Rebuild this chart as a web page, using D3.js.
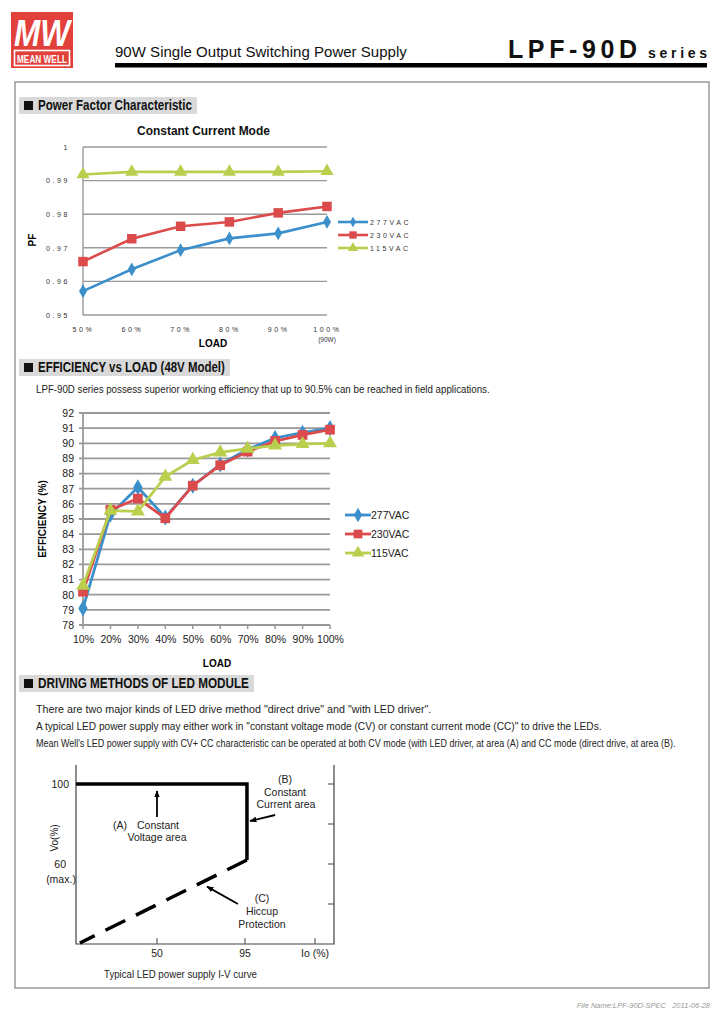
<!DOCTYPE html>
<html><head><meta charset="utf-8">
<script src="https://cdn.jsdelivr.net/npm/d3@7"></script>
<style>
html,body{margin:0;padding:0;background:#fff;}
svg{display:block;}
text{font-family:"Liberation Sans",Arial,sans-serif;}
</style></head>
<body>
<svg id="page" width="723" height="1024"></svg>
<script>
// ---------- DATA ----------
const pfLoads = ["50%","60%","70%","80%","90%","100%"];
const pfTicks = [0.95,0.96,0.97,0.98,0.99,1];
const pf277 = [0.9571,0.9636,0.9693,0.9728,0.9743,0.9777];
const pf230 = [0.9659,0.9727,0.9764,0.9777,0.9804,0.9823];
const pf115 = [0.9918,0.9926,0.9926,0.9926,0.9926,0.9928];

const effLoads = ["10%","20%","30%","40%","50%","60%","70%","80%","90%","100%"];
const effTicks = [78,79,80,81,82,83,84,85,86,87,88,89,90,91,92];
const eff277 = [79.1,85.3,87.1,85.1,87.2,88.6,89.6,90.35,90.7,91.0];
const eff230 = [80.2,85.6,86.35,85.05,87.2,88.55,89.45,90.15,90.55,90.9];
const eff115 = [80.6,85.55,85.5,87.8,88.9,89.4,89.65,89.85,89.95,90.0];

const seriesNames = ["277VAC","230VAC","115VAC"];
const seriesColors = ["#3b8fcb","#dc4b4b","#b9cf4e"];

// I-V curve (schematic)
const ivXTicks = [50,95,130.8];
const ivXLabels = ["50","95","Io (%)"];
const ivYRightTicks = [100,80,60,40];
const ivSolid = [[8.6,100],[96,100],[96,62]];
const ivDashed = [[96,62],[10.6,20.5]];
const ivArrows = [
  {from:[50,83.5], to:[50,96.5]},
  {from:[110.4,84.5], to:[97.6,81.5]},
  {from:[91.4,40], to:[75.6,48.7]}
];

const svg = d3.select("#page");

// condensed text: scale horizontally to the target width
function narrowText(parent, x, y, size, width, txt, opts){
  opts = opts || {};
  const g = parent.append("g").attr("transform",`translate(${x},${y})`);
  const t = g.append("text").attr("x",0).attr("y",0).attr("font-size",size)
    .attr("fill",opts.fill||"#222").attr("font-weight",opts.weight||"normal").text(txt);
  const w = t.node().getComputedTextLength();
  const sx = width / w;
  g.attr("transform",`translate(${x},${y}) scale(${sx},1)`);
  return t;
}

// ---------- HEADER ----------
svg.append("rect").attr("x",11).attr("y",12).attr("width",62).attr("height",56).attr("fill","#e2403a");
svg.append("text").attr("x",42).attr("y",46).attr("text-anchor","middle")
  .attr("font-size",36).attr("font-weight","bold").attr("font-style","italic").attr("fill","#fff")
  .attr("textLength",56).attr("lengthAdjust","spacingAndGlyphs").text("MW");
svg.append("rect").attr("x",14.5).attr("y",50.5).attr("width",55).attr("height",15)
  .attr("fill","none").attr("stroke","#fff").attr("stroke-width",1.6);
narrowText(svg,17,62.5,11,50,"MEAN WELL",{fill:"#fff",weight:"bold"});

narrowText(svg,115,57,15,292,"90W Single Output Switching Power Supply",{fill:"#111"});
svg.append("text").attr("x",508).attr("y",58).attr("font-size",25).attr("font-weight","bold").attr("fill","#111")
  .attr("textLength",129).attr("lengthAdjust","spacing").text("LPF-90D");
svg.append("text").attr("x",648).attr("y",58).attr("font-size",14).attr("font-weight","bold").attr("fill","#111")
  .attr("textLength",59).attr("lengthAdjust","spacing").text("series");
svg.append("rect").attr("x",115).attr("y",63).attr("width",592).attr("height",4.5).attr("fill","#000");

// frame
svg.append("rect").attr("x",15).attr("y",82).attr("width",694).attr("height",906)
  .attr("fill","none").attr("stroke","#8a8a8a").attr("stroke-width",1.3);

// section header helper
function sectionHeader(y, label, w){
  svg.append("rect").attr("x",19).attr("y",y).attr("width",w+24).attr("height",17).attr("fill","#d9d9d9");
  svg.append("rect").attr("x",24).attr("y",y+4).attr("width",9).attr("height",9).attr("fill","#111");
  narrowText(svg,38,y+13,14,w,label,{fill:"#111",weight:"bold"});
}
sectionHeader(97,"Power Factor Characteristic",154);
sectionHeader(359,"EFFICIENCY vs LOAD (48V Model)",187);
sectionHeader(675,"DRIVING METHODS OF LED MODULE",211);

const symbols = [d3.symbolDiamond, d3.symbolSquare, d3.symbolTriangle];

// ---------- PF CHART ----------
(function(){
  const x = d3.scalePoint().domain(pfLoads).range([83,327]);
  const y = d3.scaleLinear().domain([0.95,1]).range([315,147]);
  const g = svg.append("g");
  narrowText(g,137,135,13,133,"Constant Current Mode",{fill:"#111",weight:"bold"});
  g.selectAll(".pg").data(pfTicks).join("line")
    .attr("x1",83).attr("x2",327).attr("y1",d=>y(d)).attr("y2",d=>y(d))
    .attr("stroke","#9a9a9a").attr("stroke-width",1.4);
  g.append("line").attr("x1",83).attr("x2",83).attr("y1",y(1)).attr("y2",y(0.95)).attr("stroke","#9a9a9a").attr("stroke-width",1.4);
  const yAxis = d3.axisLeft(y).tickValues(pfTicks).tickSize(0).tickPadding(13)
    .tickFormat(d=> d===1 ? "1" : d3.format(".2f")(d));
  const ya = g.append("g").attr("transform","translate(83,0)").call(yAxis);
  ya.select(".domain").remove();
  ya.selectAll("text").attr("font-size",7).attr("fill","#333").attr("letter-spacing",2.6).attr("font-family","Liberation Sans, Arial, sans-serif");
  const xa = g.append("g").attr("transform","translate(0,318)").call(d3.axisBottom(x).tickSize(0).tickPadding(9));
  xa.select(".domain").remove();
  xa.selectAll("text").attr("font-size",7).attr("fill","#333").attr("letter-spacing",2.6).attr("font-family","Liberation Sans, Arial, sans-serif");
  g.append("text").attr("x",327).attr("y",342).attr("text-anchor","middle").attr("font-size",6.5).attr("fill","#333").text("(90W)");
  g.append("text").attr("x",213).attr("y",347).attr("text-anchor","middle").attr("font-size",10).attr("font-weight","bold").text("LOAD");
  g.append("text").attr("transform","translate(36,240) rotate(-90)").attr("text-anchor","middle").attr("font-size",10).attr("font-weight","bold").text("PF");
  const sets = [pf277,pf230,pf115];
  const sizes = [55,90,75];
  const line = d3.line().x((d,i)=>x(pfLoads[i])).y(d=>y(d));
  sets.forEach((s,k)=>{
    g.append("path").attr("d",line(s)).attr("fill","none").attr("stroke",seriesColors[k]).attr("stroke-width",2.6);
    g.selectAll(null).data(s).join("path")
      .attr("transform",(d,i)=>`translate(${x(pfLoads[i])},${y(d)})`)
      .attr("d",d3.symbol().type(symbols[k]).size(sizes[k])).attr("fill",seriesColors[k]);
  });
  seriesNames.forEach((n,k)=>{
    const ly = 222 + k*13;
    g.append("line").attr("x1",338).attr("x2",368).attr("y1",ly).attr("y2",ly).attr("stroke",seriesColors[k]).attr("stroke-width",2.6);
    g.append("path").attr("transform",`translate(353,${ly})`).attr("d",d3.symbol().type(symbols[k]).size(sizes[k]*0.6)).attr("fill",seriesColors[k]);
    g.append("text").attr("x",370).attr("y",ly+2.5).attr("font-size",7).attr("fill","#333").attr("letter-spacing",2.6).text(n);
  });
})();

// ---------- EFFICIENCY CHART ----------
narrowText(svg,36,393,11,454,"LPF-90D series possess superior working efficiency that up to 90.5% can be reached in field applications.");
(function(){
  const x = d3.scalePoint().domain(effLoads).range([83,330]);
  const y = d3.scaleLinear().domain([78,92]).range([625,413]);
  const g = svg.append("g");
  g.selectAll(".eg").data(effTicks).join("line")
    .attr("x1",79).attr("x2",330).attr("y1",d=>y(d)).attr("y2",d=>y(d))
    .attr("stroke","#999").attr("stroke-width",1.8);
  g.append("line").attr("x1",83).attr("x2",83).attr("y1",y(92)).attr("y2",y(78)).attr("stroke","#999").attr("stroke-width",1.8);
  g.selectAll(".et").data(effLoads).join("line")
    .attr("x1",d=>x(d)).attr("x2",d=>x(d)).attr("y1",625).attr("y2",629).attr("stroke","#999").attr("stroke-width",1.5);
  const ya = g.append("g").attr("transform","translate(79,0)")
    .call(d3.axisLeft(y).tickValues(effTicks).tickSize(0).tickPadding(5));
  ya.select(".domain").remove();
  ya.selectAll("text").attr("font-size",10.5).attr("fill","#222").attr("font-family","Liberation Sans, Arial, sans-serif");
  const xa = g.append("g").attr("transform","translate(0,630)")
    .call(d3.axisBottom(x).tickSize(0).tickPadding(6));
  xa.select(".domain").remove();
  xa.selectAll("text").attr("font-size",10.5).attr("fill","#222").attr("font-family","Liberation Sans, Arial, sans-serif");
  g.append("text").attr("x",217).attr("y",667).attr("text-anchor","middle").attr("font-size",10).attr("font-weight","bold").text("LOAD");
  g.append("text").attr("transform","translate(46,519) rotate(-90)").attr("text-anchor","middle").attr("font-size",10).attr("font-weight","bold").text("EFFICIENCY (%)");
  const sets = [eff277,eff230,eff115];
  const sizes = [75,95,85];
  const line = d3.line().x((d,i)=>x(effLoads[i])).y(d=>y(d));
  sets.forEach((s,k)=>{
    g.append("path").attr("d",line(s)).attr("fill","none").attr("stroke",seriesColors[k]).attr("stroke-width",2.8);
    g.selectAll(null).data(s).join("path")
      .attr("transform",(d,i)=>`translate(${x(effLoads[i])},${y(d)})`)
      .attr("d",d3.symbol().type(symbols[k]).size(sizes[k])).attr("fill",seriesColors[k]);
  });
  seriesNames.forEach((n,k)=>{
    const ly = 515 + k*19;
    g.append("line").attr("x1",345).attr("x2",371).attr("y1",ly).attr("y2",ly).attr("stroke",seriesColors[k]).attr("stroke-width",2.8);
    g.append("path").attr("transform",`translate(358,${ly})`).attr("d",d3.symbol().type(symbols[k]).size(sizes[k]*0.8)).attr("fill",seriesColors[k]);
    g.append("text").attr("x",371).attr("y",ly+4).attr("font-size",10.5).attr("fill","#222").text(n);
  });
})();

// ---------- DRIVING METHODS TEXT ----------
const para = [
  ['There are two major kinds of LED drive method "direct drive" and "with LED driver".',396],
  ['A typical LED power supply may either work in "constant voltage mode (CV) or constant current mode (CC)" to drive the LEDs.',566],
  ["Mean Well's LED power supply with CV+ CC characteristic can be operated at both CV mode (with LED driver, at area (A) and CC mode (direct drive, at area (B).",641]
];
para.forEach((p,i)=>{ narrowText(svg,36,713+i*17,11,p[1],p[0]); });

// ---------- I-V CURVE ----------
(function(){
  const x = d3.scaleLinear().domain([8.6,140.5]).range([76,334]);
  const y = d3.scaleLinear().domain([20,109.5]).range([944,765]);
  const g = svg.append("g");
  g.append("path").attr("d",`M${x(8.6)},${y(109.5)}V${y(20)}H${x(140.5)}V${y(109.5)}`)
    .attr("fill","none").attr("stroke","#444").attr("stroke-width",1.2);
  g.selectAll(".bt").data(ivXTicks).join("line")
    .attr("x1",d=>x(d)).attr("x2",d=>x(d)).attr("y1",944).attr("y2",938).attr("stroke","#444").attr("stroke-width",1);
  g.selectAll(".bl").data(ivXTicks).join("text")
    .attr("x",d=>x(d)).attr("y",957).attr("text-anchor","middle").attr("font-size",10.5).attr("fill","#222")
    .text((d,i)=>ivXLabels[i]);
  g.selectAll(".rt").data(ivYRightTicks).join("line")
    .attr("x1",334).attr("x2",328).attr("y1",d=>y(d)).attr("y2",d=>y(d)).attr("stroke","#444").attr("stroke-width",1);
  g.append("text").attr("x",69).attr("y",y(100)+4).attr("text-anchor","end").attr("font-size",10.5).attr("fill","#222").text("100");
  g.append("text").attr("x",66).attr("y",y(60)+4).attr("text-anchor","end").attr("font-size",10.5).attr("fill","#222").text("60");
  g.append("text").attr("x",61).attr("y",y(60)+19).attr("text-anchor","middle").attr("font-size",10.5).attr("fill","#222").text("(max.)");
  g.append("text").attr("transform","translate(58,838) rotate(-90)").attr("text-anchor","middle").attr("font-size",10).attr("fill","#222").text("Vo(%)");
  const line = d3.line().x(d=>x(d[0])).y(d=>y(d[1]));
  g.append("path").attr("d",line(ivSolid)).attr("fill","none").attr("stroke","#000").attr("stroke-width",3.5).attr("stroke-linejoin","miter");
  g.append("path").attr("d",line(ivDashed)).attr("fill","none").attr("stroke","#000").attr("stroke-width",3.5)
    .attr("stroke-dasharray","22,12");
  const defs = svg.append("defs");
  defs.append("marker").attr("id","ah").attr("viewBox","0 0 10 10").attr("refX",9).attr("refY",5)
    .attr("markerWidth",7).attr("markerHeight",7).attr("markerUnits","userSpaceOnUse").attr("orient","auto")
    .append("path").attr("d","M0,1 L10,5 L0,9 Z").attr("fill","#000");
  ivArrows.forEach(a=>{
    g.append("line").attr("x1",x(a.from[0])).attr("y1",y(a.from[1])).attr("x2",x(a.to[0])).attr("y2",y(a.to[1]))
      .attr("stroke","#000").attr("stroke-width",1.8).attr("marker-end","url(#ah)");
  });
  const lbl = (tx,ty,t,anchor)=>g.append("text").attr("x",tx).attr("y",ty).attr("text-anchor",anchor||"middle")
    .attr("font-size",10.5).attr("fill","#222").text(t);
  lbl(113,829,"(A)","start");
  lbl(137,829,"Constant","start");
  lbl(157,841,"Voltage area");
  lbl(285,783,"(B)");
  lbl(285,796,"Constant");
  lbl(286,808,"Current area");
  lbl(262,902,"(C)");
  lbl(262,915,"Hiccup");
  lbl(262,928,"Protection");
  narrowText(svg,104,978,11,153,"Typical LED power supply I-V curve");
})();

// footer
svg.append("text").attr("x",710).attr("y",1008).attr("text-anchor","end").attr("font-size",7.5)
  .attr("font-style","italic").attr("fill","#999").attr("xml:space","preserve").text("File Name:LPF-90D-SPEC   2011-06-28");
</script>
</body></html>
